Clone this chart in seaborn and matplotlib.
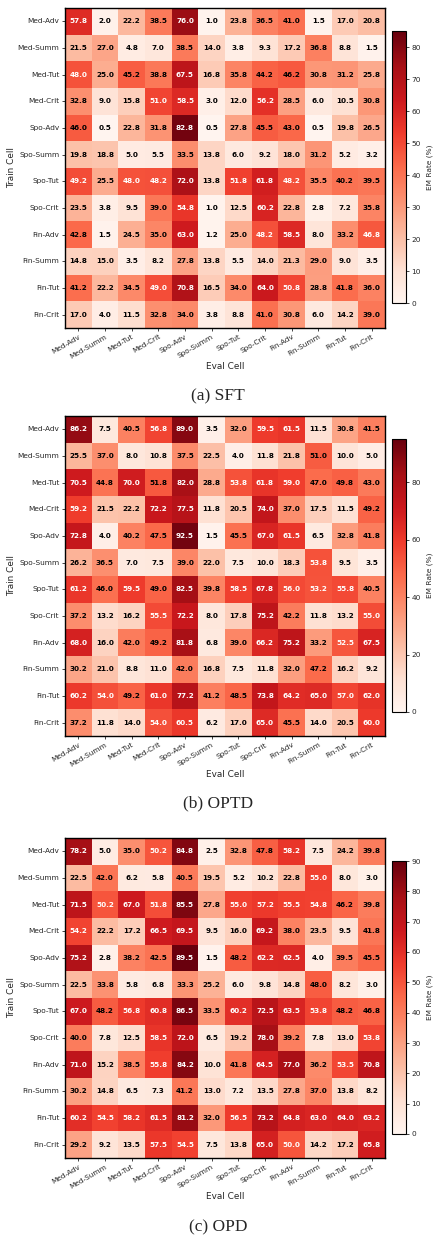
import numpy as np
import pandas as pd
import matplotlib.pyplot as plt
import seaborn as sns
from matplotlib.ticker import MultipleLocator

# cells used for both train (rows) and eval (columns)
cells = ['Med-Adv', 'Med-Summ', 'Med-Tut', 'Med-Crit',
         'Spo-Adv', 'Spo-Summ', 'Spo-Tut', 'Spo-Crit',
         'Fin-Adv', 'Fin-Summ', 'Fin-Tut', 'Fin-Crit']

# EM rate (%) per train cell (row) / eval cell (column)
sft = [
    [57.8, 2.0, 22.2, 38.5, 76.0, 1.0, 23.8, 36.5, 41.0, 1.5, 17.0, 20.8],
    [21.5, 27.0, 4.8, 7.0, 38.5, 14.0, 3.8, 9.3, 17.2, 36.8, 8.8, 1.5],
    [48.0, 25.0, 45.2, 38.8, 67.5, 16.8, 35.8, 44.2, 46.2, 30.8, 31.2, 25.8],
    [32.8, 9.0, 15.8, 51.0, 58.5, 3.0, 12.0, 56.2, 28.5, 6.0, 10.5, 30.8],
    [46.0, 0.5, 22.8, 31.8, 82.8, 0.5, 27.8, 45.5, 43.0, 0.5, 19.8, 26.5],
    [19.8, 18.8, 5.0, 5.5, 33.5, 13.8, 6.0, 9.2, 18.0, 31.2, 5.2, 3.2],
    [49.2, 25.5, 48.0, 48.2, 72.0, 13.8, 51.8, 61.8, 48.2, 35.5, 40.2, 39.5],
    [23.5, 3.8, 9.5, 39.0, 54.8, 1.0, 12.5, 60.2, 22.8, 2.8, 7.2, 35.8],
    [42.8, 1.5, 24.5, 35.0, 63.0, 1.2, 25.0, 48.2, 58.5, 8.0, 33.2, 46.8],
    [14.8, 15.0, 3.5, 8.2, 27.8, 13.8, 5.5, 14.0, 21.3, 29.0, 9.0, 3.5],
    [41.2, 22.2, 34.5, 49.0, 70.8, 16.5, 34.0, 64.0, 50.8, 28.8, 41.8, 36.0],
    [17.0, 4.0, 11.5, 32.8, 34.0, 3.8, 8.8, 41.0, 30.8, 6.0, 14.2, 39.0],
]

optd = [
    [86.2, 7.5, 40.5, 56.8, 89.0, 3.5, 32.0, 59.5, 61.5, 11.5, 30.8, 41.5],
    [25.5, 37.0, 8.0, 10.8, 37.5, 22.5, 4.0, 11.8, 21.8, 51.0, 10.0, 5.0],
    [70.5, 44.8, 70.0, 51.8, 82.0, 28.8, 53.8, 61.8, 59.0, 47.0, 49.8, 43.0],
    [59.2, 21.5, 22.2, 72.2, 77.5, 11.8, 20.5, 74.0, 37.0, 17.5, 11.5, 49.2],
    [72.8, 4.0, 40.2, 47.5, 92.5, 1.5, 45.5, 67.0, 61.5, 6.5, 32.8, 41.8],
    [26.2, 36.5, 7.0, 7.5, 39.0, 22.0, 7.5, 10.0, 18.3, 53.8, 9.5, 3.5],
    [61.2, 46.0, 59.5, 49.0, 82.5, 39.8, 58.5, 67.8, 56.0, 53.2, 55.8, 40.5],
    [37.2, 13.2, 16.2, 55.5, 72.2, 8.0, 17.8, 75.2, 42.2, 11.8, 13.2, 55.0],
    [68.0, 16.0, 42.0, 49.2, 81.8, 6.8, 39.0, 66.2, 75.2, 33.2, 52.5, 67.5],
    [30.2, 21.0, 8.8, 11.0, 42.0, 16.8, 7.5, 11.8, 32.0, 47.2, 16.2, 9.2],
    [60.2, 54.0, 49.2, 61.0, 77.2, 41.2, 48.5, 73.8, 64.2, 65.0, 57.0, 62.0],
    [37.2, 11.8, 14.0, 54.0, 60.5, 6.2, 17.0, 65.0, 45.5, 14.0, 20.5, 60.0],
]

opd = [
    [78.2, 5.0, 35.0, 50.2, 84.8, 2.5, 32.8, 47.8, 58.2, 7.5, 24.2, 39.8],
    [22.5, 42.0, 6.2, 5.8, 40.5, 19.5, 5.2, 10.2, 22.8, 55.0, 8.0, 3.0],
    [71.5, 50.2, 67.0, 51.8, 85.5, 27.8, 55.0, 57.2, 55.5, 54.8, 46.2, 39.8],
    [54.2, 22.2, 17.2, 66.5, 69.5, 9.5, 16.0, 69.2, 38.0, 23.5, 9.5, 41.8],
    [75.2, 2.8, 38.2, 42.5, 89.5, 1.5, 48.2, 62.2, 62.5, 4.0, 39.5, 45.5],
    [22.5, 33.8, 5.8, 6.8, 33.3, 25.2, 6.0, 9.8, 14.8, 48.0, 8.2, 3.0],
    [67.0, 48.2, 56.8, 60.8, 86.5, 33.5, 60.2, 72.5, 63.5, 53.8, 48.2, 46.8],
    [40.0, 7.8, 12.5, 58.5, 72.0, 6.5, 19.2, 78.0, 39.2, 7.8, 13.0, 53.8],
    [71.0, 15.2, 38.5, 55.8, 84.2, 10.0, 41.8, 64.5, 77.0, 36.2, 53.5, 70.8],
    [30.2, 14.8, 6.5, 7.3, 41.2, 13.0, 7.2, 13.5, 27.8, 37.0, 13.8, 8.2],
    [60.2, 54.5, 58.2, 61.5, 81.2, 32.0, 56.5, 73.2, 64.8, 63.0, 64.0, 63.2],
    [29.2, 9.2, 13.5, 57.5, 54.5, 7.5, 13.8, 65.0, 50.0, 14.2, 17.2, 65.8],
]

captions = ['(a) SFT', '(b) OPTD', '(c) OPD']

sns.set_style('ticks')

W, H = 437, 1241
fig = plt.figure(figsize=(W / 100, H / 100), dpi=100)

# pixel layout (top of heatmap, top/bottom of colorbar, caption y)
hm_top = [8, 416, 838]
cb_span = [(31, 303), (439, 712), (861, 1134)]
cap_y = [396, 803, 1227]
cb_step = [10, 20, 10]

for i, vals in enumerate([sft, optd, opd]):
    df = pd.DataFrame(vals, index=cells, columns=cells)
    vmax = np.ceil(df.values.max() / 5) * 5

    ax = fig.add_axes([65 / W, 1 - (hm_top[i] + 320) / H, 320 / W, 320 / H])
    cax = fig.add_axes([392 / W, 1 - cb_span[i][1] / H, 14 / W,
                        (cb_span[i][1] - cb_span[i][0]) / H])

    sns.heatmap(df, ax=ax, cbar_ax=cax, cmap='Reds', vmin=0, vmax=vmax,
                annot=True, fmt='.1f',
                annot_kws={'fontsize': 5.2, 'fontweight': 'bold'},
                cbar_kws={'label': 'EM Rate (%)'})

    # text colour: white on dark cells
    for t, v in zip(ax.texts, df.values.flatten()):
        t.set_color('white' if v > 0.55 * vmax else 'black')

    for s in ax.spines.values():
        s.set_visible(True)
        s.set_linewidth(1.0)
        s.set_color('black')

    ax.set_xticklabels(cells, rotation=30, ha='right', rotation_mode='anchor')
    ax.set_yticklabels(cells, rotation=0)
    ax.tick_params(labelsize=5.3, length=2.5, width=0.6, pad=1.5)
    ax.set_xlabel('Eval Cell', fontsize=6.4)
    ax.set_ylabel('Train Cell', fontsize=6.4)
    ax.xaxis.set_label_coords(0.5, -0.105)
    ax.yaxis.set_label_coords(-0.152, 0.5)

    cbar = ax.collections[0].colorbar
    cbar.outline.set_linewidth(0.8)
    cbar.outline.set_edgecolor('black')
    cbar.ax.yaxis.set_major_locator(MultipleLocator(cb_step[i]))
    cbar.ax.tick_params(labelsize=5.3, length=2.5, width=0.6, pad=1.5)
    cbar.set_label('EM Rate (%)', fontsize=5.3)

    fig.text(218 / W, 1 - cap_y[i] / H, captions[i], ha='center', va='center',
             fontsize=12.5, family='Liberation Serif')

fig.savefig('out.png', dpi=100)
